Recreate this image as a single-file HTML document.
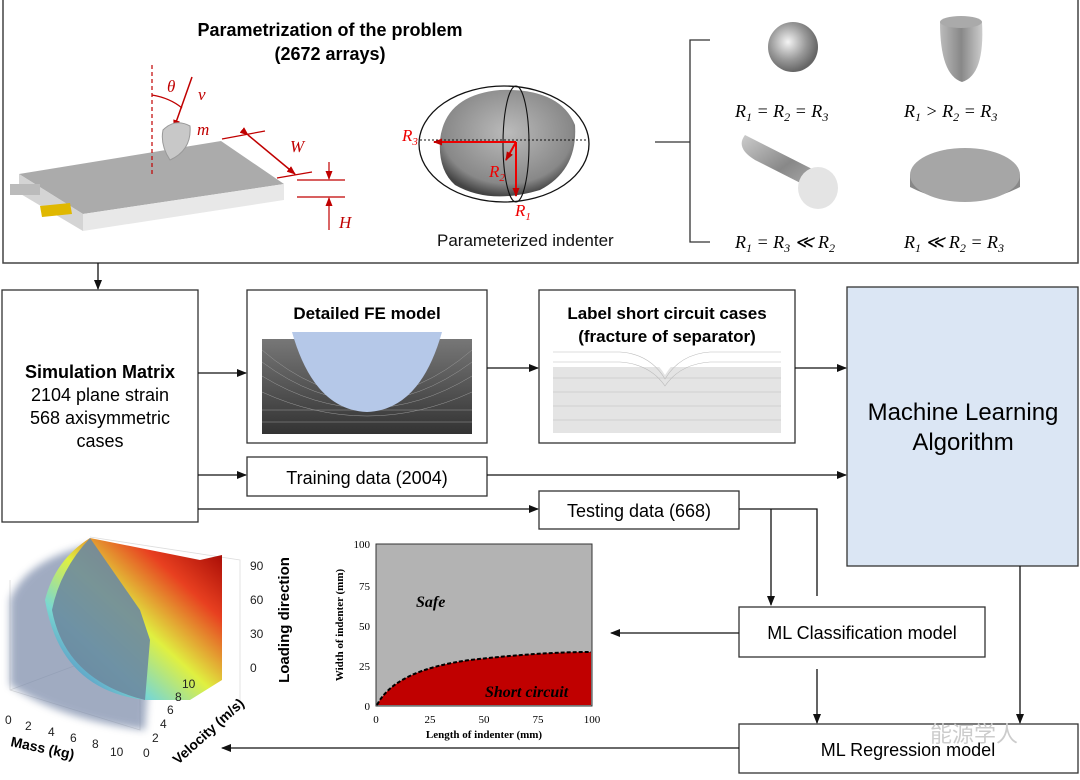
<!DOCTYPE html>
<html><head><meta charset="utf-8"><style>
html,body{margin:0;padding:0;background:#fff}
svg{display:block}
text{font-family:"Liberation Sans",sans-serif}
text.m{font-family:"Liberation Serif",serif;font-style:italic}
text.s{font-family:"Liberation Serif",serif}
</style></head><body>
<svg width="1080" height="780" viewBox="0 0 1080 780" xmlns="http://www.w3.org/2000/svg">
<defs>
<marker id="a" markerWidth="10" markerHeight="8" refX="9" refY="4" orient="auto" markerUnits="userSpaceOnUse"><path d="M0,0 L10,4 L0,8 z" fill="#111"/></marker>
<marker id="r" markerWidth="9" markerHeight="7" refX="8" refY="3.5" orient="auto" markerUnits="userSpaceOnUse"><path d="M0,0 L9,3.5 L0,7 z" fill="#c00000"/></marker>
<radialGradient id="sph" cx="0.4" cy="0.4" r="0.6"><stop offset="0" stop-color="#f4f4f4"/><stop offset="0.6" stop-color="#999"/><stop offset="1" stop-color="#666"/></radialGradient>
<linearGradient id="cyl" x1="0" y1="0" x2="1" y2="0"><stop offset="0" stop-color="#bbb"/><stop offset="0.5" stop-color="#888"/><stop offset="1" stop-color="#ccc"/></linearGradient>
<linearGradient id="cylb" x1="0" y1="0" x2="1" y2="1"><stop offset="0" stop-color="#ccc"/><stop offset="0.5" stop-color="#888"/><stop offset="1" stop-color="#bbb"/></linearGradient>
<linearGradient id="fe" x1="0" y1="0" x2="0" y2="1"><stop offset="0" stop-color="#777"/><stop offset="1" stop-color="#333"/></linearGradient>
<radialGradient id="rock" cx="0.5" cy="0.4" r="0.6"><stop offset="0" stop-color="#bbb"/><stop offset="0.8" stop-color="#888"/><stop offset="1" stop-color="#444"/></radialGradient>
<linearGradient id="heat" x1="0" y1="1" x2="1" y2="0"><stop offset="0" stop-color="#3a5fc0"/><stop offset="0.3" stop-color="#7ad8d0"/><stop offset="0.5" stop-color="#e0f040"/><stop offset="0.75" stop-color="#e84020"/><stop offset="1" stop-color="#900"/></linearGradient>
<filter id="bl"><feGaussianBlur stdDeviation="4"/></filter>
</defs>

<!-- top box -->
<path d="M3,0 V263 H1078 V0" fill="none" stroke="#444" stroke-width="1.5"/>
<text x="330" y="36" font-size="18" font-weight="bold" text-anchor="middle">Parametrization of the problem</text>
<text x="330" y="60" font-size="18" font-weight="bold" text-anchor="middle">(2672 arrays)</text>

<!-- battery -->
<polygon points="19,174 221,141 284,184 83,214" fill="#ababab"/>
<polygon points="83,214 284,184 284,200 83,231" fill="#e8e8e8"/>
<polygon points="19,174 83,214 83,231 19,193" fill="#d4d4d4"/>
<rect x="10" y="184" width="30" height="11" fill="#bbb"/>
<polygon points="40,206 70,203 72,214 42,217" fill="#e0b800"/>
<line x1="152" y1="65" x2="152" y2="175" stroke="#c00000" stroke-width="1.2" stroke-dasharray="4,3"/>
<path d="M152,95 Q170,98 182,108" fill="none" stroke="#c00000" stroke-width="1.2"/>
<line x1="192" y1="77" x2="174" y2="128" stroke="#c00000" stroke-width="1.5" marker-end="url(#r)"/>
<text x="167" y="92" class="m" font-size="17" fill="#c00000">θ</text>
<text x="198" y="100" class="m" font-size="17" fill="#c00000">v</text>
<text x="197" y="135" class="m" font-size="17" fill="#c00000">m</text>
<path d="M163,130 Q175,118 190,126 Q192,150 170,160 Q160,145 163,130 z" fill="#c8c8c8" stroke="#999"/>
<line x1="222" y1="139" x2="265" y2="131" stroke="#c00000" stroke-width="1.2"/>
<line x1="277" y1="178" x2="312" y2="172" stroke="#c00000" stroke-width="1.2"/>
<line x1="248" y1="135" x2="295" y2="174" stroke="#c00000" stroke-width="1.5" marker-end="url(#r)" marker-start="url(#r)"/>
<text x="290" y="152" class="m" font-size="17" fill="#c00000">W</text>
<line x1="297" y1="180" x2="345" y2="180" stroke="#c00000" stroke-width="1.2"/>
<line x1="297" y1="197" x2="345" y2="197" stroke="#c00000" stroke-width="1.2"/>
<line x1="329" y1="162" x2="329" y2="179" stroke="#c00000" stroke-width="1.2" marker-end="url(#r)"/>
<line x1="329" y1="230" x2="329" y2="198" stroke="#c00000" stroke-width="1.2" marker-end="url(#r)"/>
<text x="339" y="228" class="m" font-size="17" fill="#c00000">H</text>

<!-- ellipsoid -->
<path d="M440,140 Q445,95 500,90 Q560,88 575,125 Q578,170 540,190 Q490,205 455,185 Q438,170 440,140 z" fill="url(#rock)"/>
<ellipse cx="504" cy="144" rx="85" ry="58" fill="none" stroke="#111" stroke-width="1.3"/>
<ellipse cx="516" cy="144" rx="13" ry="58" fill="none" stroke="#111" stroke-width="1.1"/>
<line x1="420" y1="140" x2="588" y2="140" stroke="#111" stroke-dasharray="2,2"/>
<line x1="516" y1="142" x2="434" y2="142" stroke="#e00" stroke-width="2" marker-end="url(#r)"/>
<line x1="516" y1="142" x2="516" y2="196" stroke="#e00" stroke-width="2" marker-end="url(#r)"/>
<line x1="516" y1="142" x2="506" y2="160" stroke="#e00" stroke-width="2" marker-end="url(#r)"/>
<text x="402" y="141" class="m" font-size="17" fill="#e00">R<tspan font-size="11" dy="4">3</tspan></text>
<text x="489" y="177" class="m" font-size="17" fill="#e00">R<tspan font-size="11" dy="4">2</tspan></text>
<text x="515" y="216" class="m" font-size="17" fill="#e00">R<tspan font-size="11" dy="4">1</tspan></text>
<text x="437" y="246" font-size="17" fill="#111">Parameterized indenter</text>

<!-- bracket -->
<path d="M710,40 H690 V242 H710 M655,142 H690" fill="none" stroke="#333" stroke-width="1.3"/>
<circle cx="793" cy="47" r="25" fill="url(#sph)"/>
<path d="M940,22 H982 Q985,75 962,82 Q940,75 940,22 z" fill="url(#cyl)"/>
<ellipse cx="961" cy="22" rx="21" ry="6" fill="#aaa"/>
<path d="M745,135 L818,172 L828,197 L755,160 Q735,148 745,135 z" fill="url(#cylb)"/>
<ellipse cx="818" cy="188" rx="20" ry="21" fill="#e4e4e4"/>
<path d="M910,175 V187 Q965,215 1020,187 V175 z" fill="#888"/>
<ellipse cx="965" cy="175" rx="55" ry="27" fill="#a6a6a6"/>
<text x="735" y="117" class="m" font-size="18">R<tspan font-size="12" dy="4">1</tspan><tspan dy="-4"> = R</tspan><tspan font-size="12" dy="4">2</tspan><tspan dy="-4"> = R</tspan><tspan font-size="12" dy="4">3</tspan></text>
<text x="904" y="117" class="m" font-size="18">R<tspan font-size="12" dy="4">1</tspan><tspan dy="-4"> &gt; R</tspan><tspan font-size="12" dy="4">2</tspan><tspan dy="-4"> = R</tspan><tspan font-size="12" dy="4">3</tspan></text>
<text x="735" y="248" class="m" font-size="18">R<tspan font-size="12" dy="4">1</tspan><tspan dy="-4"> = R</tspan><tspan font-size="12" dy="4">3</tspan><tspan dy="-4"> ≪ R</tspan><tspan font-size="12" dy="4">2</tspan></text>
<text x="904" y="248" class="m" font-size="18">R<tspan font-size="12" dy="4">1</tspan><tspan dy="-4"> ≪ R</tspan><tspan font-size="12" dy="4">2</tspan><tspan dy="-4"> = R</tspan><tspan font-size="12" dy="4">3</tspan></text>

<!-- flow -->
<line x1="98" y1="263" x2="98" y2="289" stroke="#111" stroke-width="1.3" marker-end="url(#a)"/>
<rect x="2" y="290" width="196" height="232" fill="#fff" stroke="#333" stroke-width="1.3"/>
<text x="100" y="378" font-size="18" font-weight="bold" text-anchor="middle">Simulation Matrix</text>
<text x="100" y="401" font-size="18" text-anchor="middle">2104 plane strain</text>
<text x="100" y="424" font-size="18" text-anchor="middle">568 axisymmetric</text>
<text x="100" y="447" font-size="18" text-anchor="middle">cases</text>

<rect x="247" y="290" width="240" height="153" fill="#fff" stroke="#333" stroke-width="1.3"/>
<text x="367" y="319" font-size="17" font-weight="bold" text-anchor="middle">Detailed FE model</text>
<rect x="262" y="339" width="210" height="95" fill="url(#fe)"/>
<g stroke="#999" stroke-width="0.5" fill="none">
<path d="M262,350 Q367,440 472,350"/><path d="M262,362 Q367,440 472,362"/><path d="M262,376 Q367,440 472,376"/><path d="M262,392 Q367,440 472,392"/><path d="M262,410 H472"/><path d="M262,422 H472"/>
</g>
<path d="M292,332 H442 Q420,410 367,412 Q314,410 292,332 z" fill="#b5c8e8"/>

<rect x="539" y="290" width="256" height="153" fill="#fff" stroke="#333" stroke-width="1.3"/>
<text x="667" y="319" font-size="17" font-weight="bold" text-anchor="middle">Label short circuit cases</text>
<text x="667" y="342" font-size="17" font-weight="bold" text-anchor="middle">(fracture of separator)</text>
<rect x="553" y="367" width="228" height="66" fill="#e4e4e4"/>
<path d="M553,348 H620 Q650,350 665,375 Q680,350 710,348 H781 V367 H553 z" fill="#fff"/>
<g stroke="#bbb" stroke-width="0.6" fill="none">
<path d="M553,352 H620 Q650,354 665,379 Q680,354 710,352 H781"/>
<path d="M553,362 H620 Q650,364 665,386 Q680,364 710,362 H781"/>
<path d="M553,378 H781"/><path d="M553,392 H781"/><path d="M553,406 H781"/><path d="M553,420 H781"/>
</g>

<rect x="847" y="287" width="231" height="279" fill="#dbe6f4" stroke="#333" stroke-width="1.3"/>
<text x="963" y="420" font-size="24" text-anchor="middle">Machine Learning</text>
<text x="963" y="450" font-size="24" text-anchor="middle">Algorithm</text>

<rect x="247" y="457" width="240" height="39" fill="#fff" stroke="#333" stroke-width="1.3"/>
<text x="367" y="484" font-size="18" text-anchor="middle">Training data (2004)</text>
<rect x="539" y="491" width="200" height="38" fill="#fff" stroke="#333" stroke-width="1.3"/>
<text x="639" y="517" font-size="18" text-anchor="middle">Testing data (668)</text>
<rect x="739" y="607" width="246" height="50" fill="#fff" stroke="#333" stroke-width="1.3"/>
<text x="862" y="639" font-size="18" text-anchor="middle">ML Classification model</text>
<rect x="739" y="724" width="339" height="49" fill="#fff" stroke="#333" stroke-width="1.3"/>
<text x="908" y="756" font-size="18" text-anchor="middle">ML Regression model</text>
<text x="930" y="742" font-size="22" fill="#ccc" style="font-family:'Liberation Sans','Noto Sans CJK SC',sans-serif">能源学人</text>

<g stroke="#111" stroke-width="1.3" fill="none">
<line x1="198" y1="373" x2="246" y2="373" marker-end="url(#a)"/>
<line x1="487" y1="368" x2="538" y2="368" marker-end="url(#a)"/>
<line x1="795" y1="368" x2="846" y2="368" marker-end="url(#a)"/>
<line x1="198" y1="475" x2="246" y2="475" marker-end="url(#a)"/>
<line x1="487" y1="475" x2="846" y2="475" marker-end="url(#a)"/>
<line x1="198" y1="509" x2="538" y2="509" marker-end="url(#a)"/>
<polyline points="739,509 817,509 817,596"/>
<line x1="771" y1="509" x2="771" y2="605" marker-end="url(#a)"/>
<line x1="817" y1="669" x2="817" y2="723" marker-end="url(#a)"/>
<line x1="1020" y1="566" x2="1020" y2="723" marker-end="url(#a)"/>
<line x1="739" y1="633" x2="611" y2="633" marker-end="url(#a)"/>
<line x1="739" y1="748" x2="222" y2="748" marker-end="url(#a)"/>
</g>

<!-- 2D plot -->
<rect x="376" y="544" width="216" height="162" fill="#b3b3b3" stroke="#333"/>
<path d="M377,705 Q395,670 470,660 Q540,652 591,652 V705 z" fill="#c00000"/>
<path d="M377,705 Q395,670 470,660 Q540,652 591,652" fill="none" stroke="#000" stroke-width="2" stroke-dasharray="4,2"/>
<g font-size="11">
<text class="s" x="370" y="548" text-anchor="end">100</text><text class="s" x="370" y="590" text-anchor="end">75</text><text class="s" x="370" y="630" text-anchor="end">50</text><text class="s" x="370" y="670" text-anchor="end">25</text><text class="s" x="370" y="710" text-anchor="end">0</text>
<text class="s" x="376" y="723" text-anchor="middle">0</text><text class="s" x="430" y="723" text-anchor="middle">25</text><text class="s" x="484" y="723" text-anchor="middle">50</text><text class="s" x="538" y="723" text-anchor="middle">75</text><text class="s" x="592" y="723" text-anchor="middle">100</text>
<text class="s" x="484" y="738" text-anchor="middle" font-weight="bold">Length of indenter (mm)</text>
<text class="s" transform="translate(343,625) rotate(-90)" text-anchor="middle" font-weight="bold">Width of indenter (mm)</text>
</g>
<text class="m" x="416" y="607" font-size="16" font-weight="bold">Safe</text>
<text class="m" x="485" y="697" font-size="16" font-weight="bold">Short circuit</text>

<!-- 3D plot -->
<g stroke="#ddd" stroke-width="0.8" fill="none">
<polyline points="10,580 10,690 140,730 140,610"/><polyline points="90,537 240,560 240,700"/>
<line x1="10" y1="690" x2="90" y2="660"/>
</g>
<path d="M10,600 Q25,560 90,545 L150,660 L145,730 Q60,720 10,685 z" fill="#7888a8" opacity="0.7" filter="url(#bl)"/>
<path d="M90,538 L200,560 L222,555 L222,680 L190,700 L145,700 Q60,690 45,600 Q55,560 90,538 z" fill="url(#heat)"/>
<path d="M90,538 Q60,570 52,610 Q65,680 145,700 L150,640 L140,610 z" fill="#6d8aa0" opacity="0.9"/>
<g font-size="12" fill="#222">
<text x="250" y="570">90</text><text x="250" y="604">60</text><text x="250" y="638">30</text><text x="250" y="672">0</text>
<text x="5" y="724">0</text><text x="25" y="730">2</text><text x="48" y="736">4</text><text x="70" y="742">6</text><text x="92" y="748">8</text><text x="110" y="756">10</text>
<text x="143" y="757">0</text><text x="152" y="742">2</text><text x="160" y="728">4</text><text x="167" y="714">6</text><text x="175" y="701">8</text><text x="182" y="688">10</text>
</g>
<text transform="translate(289,620) rotate(-90)" font-size="15" font-weight="bold" text-anchor="middle">Loading direction</text>
<text transform="translate(10,746) rotate(12)" font-size="14" font-weight="bold">Mass (kg)</text>
<text transform="translate(178,765) rotate(-42)" font-size="14" font-weight="bold">Velocity (m/s)</text>
</svg>
</body></html>
